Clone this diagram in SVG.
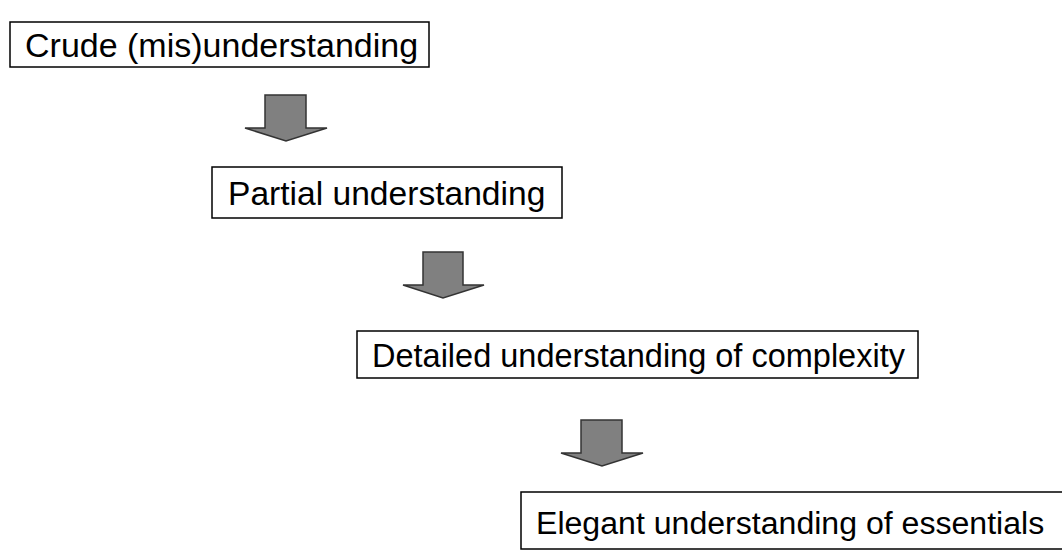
<svg xmlns="http://www.w3.org/2000/svg" width="1062" height="552" viewBox="0 0 1062 552">
<style>
.box{fill:#fff;stroke:#000;stroke-width:1.5}
.lbl{font-family:"Liberation Sans",Arial,sans-serif;font-size:34px;fill:#000}
.sm{font-size:32.5px}
.arr{fill:#808080;stroke:#333;stroke-width:1.5;stroke-linejoin:miter}
</style>
<rect width="1062" height="552" fill="#fff"/>
<g id="node1"><rect class="box" x="10" y="22" width="419" height="45"/><text class="lbl" x="25" y="57">Crude (mis)understanding</text></g>
<g id="node2"><rect class="box" x="212" y="167" width="350" height="51"/><text class="lbl" x="228" y="205" style="font-size:33.6px">Partial understanding</text></g>
<g id="node3"><rect class="box" x="357" y="331" width="561" height="47"/><text class="lbl sm" x="372" y="367">Detailed understanding of complexity</text></g>
<g id="node4"><rect class="box" x="521" y="492" width="560" height="57"/><text class="lbl" x="536" y="534" style="font-size:32.1px">Elegant understanding of essentials</text></g>
<g id="connectors">
<path class="arr" d="M265,95 H306 V128 H327 L286,141 L245,128 H265 Z"/>
<path class="arr" d="M423,252 H463 V285 H484 L443,298 L403,285 H423 Z"/>
<path class="arr" d="M581,420 H622 V453 H643 L602,466 L561,453 H581 Z"/>
</g>
</svg>
